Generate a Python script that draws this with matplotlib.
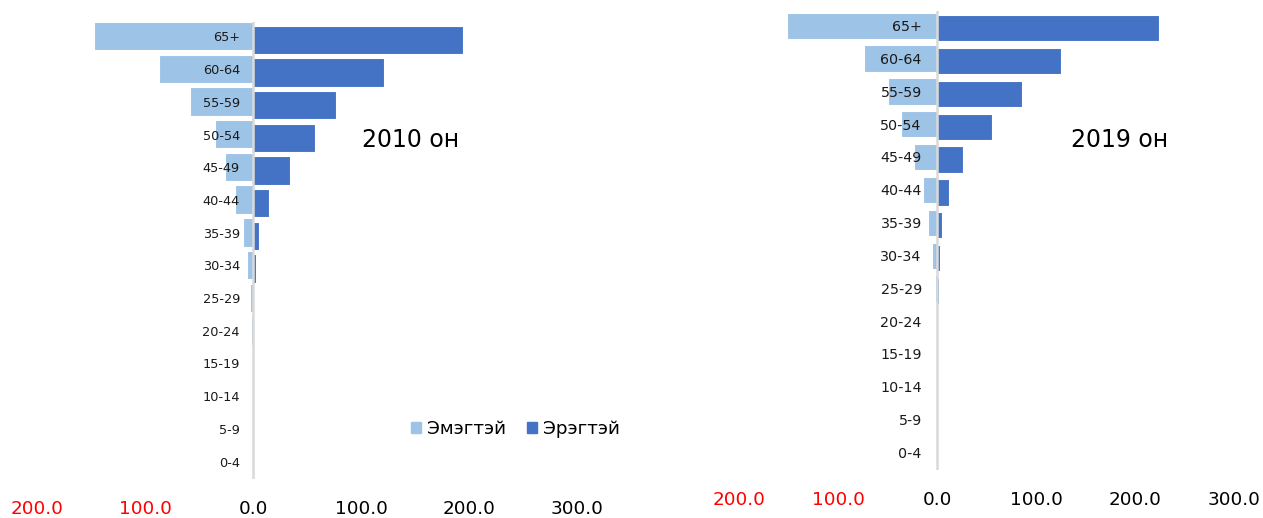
import numpy as np
import matplotlib.pyplot as plt
from matplotlib.patches import Patch
from matplotlib.ticker import FuncFormatter

# Насны бүлгүүд (дээрээс доош)
age_groups = ["65+", "60-64", "55-59", "50-54", "45-49", "40-44", "35-39",
              "30-34", "25-29", "20-24", "15-19", "10-14", "5-9", "0-4"]

# 2010 он
female_2010 = [147, 87, 58, 35, 26, 16.7, 9, 5.3, 2.5, 1.5, 0.8, 0.3, 0.3, 0.3]
male_2010 = [194, 121, 77, 57, 34, 15, 5.5, 3, 0.8, 0.4, 0.2, 0.1, 0.1, 0.1]

# 2019 он
female_2019 = [152, 74, 50, 37, 24, 15, 9.7, 5.4, 2.1, 0.6, 0.3, 0.2, 0.2, 0.2]
male_2019 = [223.5, 124.5, 85, 55, 26, 11.7, 5, 2.6, 1.9, 0.3, 0.2, 0.1, 0.1, 0.1]

ticks = [-200, -100, 0, 100, 200, 300]

light = "#9DC3E6"
dark = "#4472C4"


def fmt(v, pos):
    return "%.1f" % abs(v)


def pyramid(ax, female, male, bar_h, off, lab_size, lab_off):
    y = np.arange(len(age_groups))
    ax.barh(y - off, -np.array(female), height=bar_h, color=light,
            edgecolor="white", linewidth=0.8, zorder=2)
    ax.barh(y + off, male, height=bar_h, color=dark,
            edgecolor="white", linewidth=0.8, zorder=2)
    ax.axvline(0, color="#D9D9D9", lw=1.8, zorder=3)
    for i, lab in enumerate(age_groups):
        ax.annotate(lab, (0, i), xytext=(lab_off, 0), textcoords="offset points",
                    ha="right", va="center", fontsize=lab_size, color="#1a1a1a",
                    zorder=4)
    ax.set_xlim(-200, 300)
    ax.set_ylim(len(age_groups) - 0.5, -0.5)
    ax.set_yticks([])
    ax.set_xticks(ticks)
    ax.xaxis.set_major_formatter(FuncFormatter(fmt))
    ax.tick_params(axis="x", length=0, pad=15, labelsize=13.2)
    for t, v in zip(ax.get_xticklabels(), ticks):
        t.set_color("#FF0000" if v < 0 else "black")
    for s in ax.spines.values():
        s.set_visible(False)


fig = plt.figure(figsize=(12.63, 5.18), dpi=100)

ax1 = fig.add_axes([0.0293, 0.0745, 0.4276, 0.8838])
pyramid(ax1, female_2010, male_2010, 0.87, 0.055, 9.3, -9.4)

ax2 = fig.add_axes([0.5855, 0.0919, 0.3919, 0.8877])
pyramid(ax2, female_2019, male_2019, 0.80, 0.037, 10.3, -11.3)

fig.text(362 / 1263, 1 - 147 / 518, "2010 он", fontsize=17, va="baseline")
fig.text(1071 / 1263, 1 - 147 / 518, "2019 он", fontsize=17, va="baseline")

handles = [Patch(color=light, label="Эмэгтэй"), Patch(color=dark, label="Эрэгтэй")]
fig.legend(handles=handles, loc="center", ncol=2, frameon=False,
           bbox_to_anchor=(515.5 / 1263, 1 - 429 / 518), fontsize=13.2,
           handlelength=0.55, handleheight=0.55, handletextpad=0.33,
           columnspacing=1.15, borderpad=0)

plt.savefig("out.png", dpi=100)
